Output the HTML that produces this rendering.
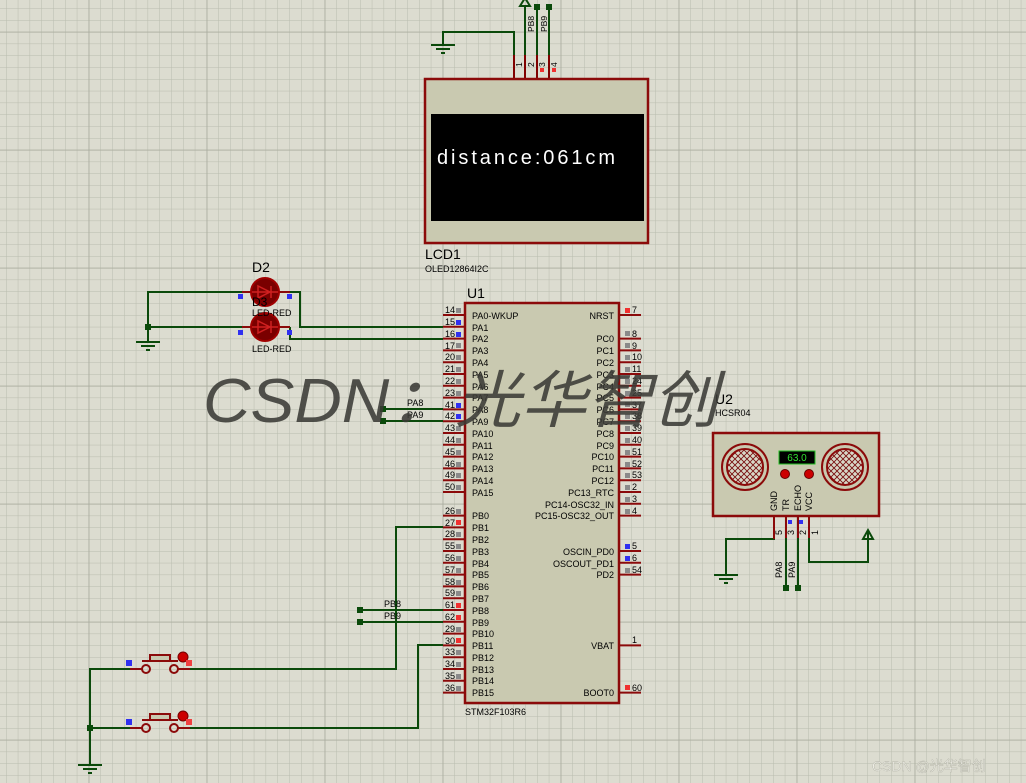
<!DOCTYPE html>
<html><head><meta charset="utf-8"><style>
html,body{margin:0;padding:0;background:#dcdcd0;}
svg{display:block;}
text{font-family:"Liberation Sans","Noto Sans CJK SC",sans-serif;}
</style></head><body>
<svg width="1026" height="783" viewBox="0 0 1026 783" xmlns="http://www.w3.org/2000/svg">
<defs>
<pattern id="mg" patternUnits="userSpaceOnUse" x="6" y="8.2" width="11.8" height="11.8">
<path d="M0 0H11.8M0 0V11.8" stroke="#b9bcae" stroke-width="1" fill="none"/></pattern>
<pattern id="Mg" patternUnits="userSpaceOnUse" x="88.6" y="31.7" width="118" height="118">
<path d="M0 0H118M0 0V118" stroke="#a9ac9e" stroke-width="1.6" fill="none"/></pattern>
<pattern id="mesh" patternUnits="userSpaceOnUse" width="6" height="6">
<rect width="6" height="6" fill="#d8d8c8"/><path d="M0 0L6 6M6 0L0 6" stroke="#7a1010" stroke-width="0.9"/></pattern>
</defs>
<rect width="1026" height="783" fill="#dcdcd0"/>
<rect width="1026" height="783" fill="url(#mg)"/>
<rect width="1026" height="783" fill="url(#Mg)"/>

<!-- LCD -->
<g stroke="#0b4a0b" stroke-width="2" fill="none">
<path d="M514 55V32H443V45"/><path d="M525 55V6"/><path d="M537 55V7"/><path d="M549 55V7"/>
</g>
<path d="M431 45H455M436 49H450M441 53H445" stroke="#0b4a0b" stroke-width="2"/>
<path d="M520 6L525 -2L530 6Z" fill="none" stroke="#0b4a0b" stroke-width="2"/>
<rect x="534" y="4" width="6" height="6" fill="#0b4a0b"/><rect x="546" y="4" width="6" height="6" fill="#0b4a0b"/>
<g stroke="#800000" stroke-width="2"><path d="M514 55V79M525 55V79M537 55V79M549 55V79"/></g>
<rect x="540" y="68" width="4" height="4" fill="#f03030"/><rect x="552" y="68" width="4" height="4" fill="#f03030"/>
<g font-size="8.5" fill="#000">
<text transform="translate(534,32) rotate(-90)">PB8</text>
<text transform="translate(547,32) rotate(-90)">PB9</text>
<text transform="translate(522,67) rotate(-90)">1</text><text transform="translate(534,67) rotate(-90)">2</text>
<text transform="translate(545,67) rotate(-90)">3</text><text transform="translate(557,67) rotate(-90)">4</text>
<text transform="translate(522,106) rotate(-90)">GND</text><text transform="translate(533,106) rotate(-90)">VCC</text>
<text transform="translate(545,106) rotate(-90)">SCL</text><text transform="translate(557,106) rotate(-90)">SDA</text>
</g>
<rect x="425" y="79" width="223" height="164" fill="#c9c9b0" stroke="#8b0a0a" stroke-width="2.5"/>
<rect x="431" y="114" width="213" height="107" fill="#000"/>
<text x="437" y="164" font-family="Liberation Mono,monospace" font-size="20" fill="#fff" textLength="178">distance:061cm</text>
<text x="425" y="259" font-size="14">LCD1</text>
<text x="425" y="272" font-size="9">OLED12864I2C</text>

<!-- LEDs -->
<g stroke="#0b4a0b" stroke-width="2" fill="none">
<path d="M242 292H148V327H242"/><path d="M148 327V342"/>
<path d="M290 292H300V327H443"/><path d="M290 327V339H443"/>
<path d="M383 409H443M383 421H443"/>
<path d="M443 527H396V669H190"/><path d="M443 645H418V728H190"/>
<path d="M360 610H443M360 622H443"/>
<path d="M130 669H90V765M130 728H90"/>
</g>
<rect x="145" y="324" width="6" height="6" fill="#0b4a0b"/>
<rect x="87" y="725" width="6" height="6" fill="#0b4a0b"/>
<rect x="380" y="406" width="6" height="6" fill="#0b4a0b"/><rect x="380" y="418" width="6" height="6" fill="#0b4a0b"/>
<rect x="357" y="607" width="6" height="6" fill="#0b4a0b"/><rect x="357" y="619" width="6" height="6" fill="#0b4a0b"/>
<path d="M136 342H160M141 346H155M146 350H150" stroke="#0b4a0b" stroke-width="2"/>
<path d="M78 765H102M83 769H97M88 773H92" stroke="#0b4a0b" stroke-width="2"/>
<g>
<path d="M242 292H290M242 327H290" stroke="#8b0a0a" stroke-width="2"/>
<circle cx="265" cy="292" r="14" fill="#7a0000" stroke="#a00000" stroke-width="2"/>
<circle cx="265" cy="327" r="14" fill="#7a0000" stroke="#a00000" stroke-width="2"/>
<path d="M258 286V298L270 292ZM271 286V298M252 292H278" stroke="#d02020" stroke-width="1.5" fill="none"/>
<path d="M258 321V333L270 327ZM271 321V333M252 327H278" stroke="#d02020" stroke-width="1.5" fill="none"/>
<rect x="238" y="294" width="5" height="5" fill="#3030f0"/><rect x="287" y="294" width="5" height="5" fill="#3030f0"/>
<rect x="238" y="330" width="5" height="5" fill="#3030f0"/><rect x="287" y="330" width="5" height="5" fill="#3030f0"/>
<text x="252" y="272" font-size="14">D2</text>
<text x="252" y="306" font-size="12">D3</text>
<text x="252" y="316" font-size="9">LED-RED</text>
<text x="252" y="352" font-size="9">LED-RED</text>
</g>
<text x="407" y="406" font-size="9">PA8</text><text x="407" y="418" font-size="9">PA9</text>
<text x="384" y="607" font-size="9">PB8</text><text x="384" y="619" font-size="9">PB9</text>

<!-- Buttons -->
<g stroke="#8b0a0a" stroke-width="2" fill="none">
<path d="M130 669H142M178 669H190M142 661H178"/><circle cx="146" cy="669" r="4"/><circle cx="174" cy="669" r="4"/>
<rect x="150" y="655" width="20" height="6" fill="#c8c8b0"/>
<path d="M130 728H142M178 728H190M142 720H178"/><circle cx="146" cy="728" r="4"/><circle cx="174" cy="728" r="4"/>
<rect x="150" y="714" width="20" height="6" fill="#c8c8b0"/>
</g>
<circle cx="183" cy="657" r="5" fill="#c00" stroke="#700" /><circle cx="183" cy="716" r="5" fill="#c00" stroke="#700"/>
<rect x="186" y="660" width="6" height="6" fill="#f04040"/><rect x="186" y="719" width="6" height="6" fill="#f04040"/>
<rect x="126" y="660" width="6" height="6" fill="#3030f0"/><rect x="126" y="719" width="6" height="6" fill="#3030f0"/>

<!-- MCU -->
<text x="467" y="298" font-size="14">U1</text>
<text x="465" y="715" font-size="9">STM32F103R6</text>
<g stroke="#8b0a0a" stroke-width="2">
<path d="M443 315H465M443 326.8H465M443 338.6H465M443 350.4H465M443 362.2H465M443 374H465M443 385.8H465M443 397.6H465M443 409.4H465M443 421.2H465M443 433H465M443 444.8H465M443 456.6H465M443 468.4H465M443 480.2H465M443 492H465"/>
<path d="M443 515.6H465M443 527.4H465M443 539.2H465M443 551H465M443 562.8H465M443 574.6H465M443 586.4H465M443 598.2H465M443 610H465M443 621.8H465M443 633.6H465M443 645.4H465M443 657.2H465M443 669H465M443 680.8H465M443 692.6H465"/>
<path d="M619 315H641M619 338.6H641M619 350.4H641M619 362.2H641M619 374H641M619 385.8H641M619 397.6H641M619 409.4H641M619 421.2H641M619 433H641M619 444.8H641M619 456.6H641M619 468.4H641M619 480.2H641M619 492H641M619 503.8H641M619 515.6H641M619 551H641M619 562.8H641M619 574.6H641M619 645.4H641M619 692.6H641"/>
</g>
<rect x="465" y="303" width="154" height="400" fill="#c9c9b0" stroke="#8b0a0a" stroke-width="2.5"/>
<g font-size="9" fill="#000">
<text x="445" y="313">14</text><text x="445" y="325">15</text><text x="445" y="337">16</text><text x="445" y="349">17</text><text x="445" y="360">20</text><text x="445" y="372">21</text><text x="445" y="384">22</text><text x="445" y="396">23</text><text x="445" y="408">41</text><text x="445" y="419">42</text><text x="445" y="431">43</text><text x="445" y="443">44</text><text x="445" y="455">45</text><text x="445" y="467">46</text><text x="445" y="478">49</text><text x="445" y="490">50</text>
<text x="445" y="514">26</text><text x="445" y="526">27</text><text x="445" y="537">28</text><text x="445" y="549">55</text><text x="445" y="561">56</text><text x="445" y="573">57</text><text x="445" y="585">58</text><text x="445" y="596">59</text><text x="445" y="608">61</text><text x="445" y="620">62</text><text x="445" y="632">29</text><text x="445" y="644">30</text><text x="445" y="655">33</text><text x="445" y="667">34</text><text x="445" y="679">35</text><text x="445" y="691">36</text>
<text x="632" y="313">7</text><text x="632" y="337">8</text><text x="632" y="349">9</text><text x="632" y="360">10</text><text x="632" y="372">11</text><text x="632" y="384">24</text><text x="632" y="396">25</text><text x="632" y="408">37</text><text x="632" y="419">38</text><text x="632" y="431">39</text><text x="632" y="443">40</text><text x="632" y="455">51</text><text x="632" y="467">52</text><text x="632" y="478">53</text><text x="632" y="490">2</text><text x="632" y="502">3</text><text x="632" y="514">4</text><text x="632" y="549">5</text><text x="632" y="561">6</text><text x="632" y="573">54</text><text x="632" y="643">1</text><text x="632" y="691">60</text>
<text x="472" y="319">PA0-WKUP</text><text x="472" y="331">PA1</text><text x="472" y="342">PA2</text><text x="472" y="354">PA3</text><text x="472" y="366">PA4</text><text x="472" y="378">PA5</text><text x="472" y="390">PA6</text><text x="472" y="401">PA7</text><text x="472" y="413">PA8</text><text x="472" y="425">PA9</text><text x="472" y="437">PA10</text><text x="472" y="449">PA11</text><text x="472" y="460">PA12</text><text x="472" y="472">PA13</text><text x="472" y="484">PA14</text><text x="472" y="496">PA15</text>
<text x="472" y="519">PB0</text><text x="472" y="531">PB1</text><text x="472" y="543">PB2</text><text x="472" y="555">PB3</text><text x="472" y="567">PB4</text><text x="472" y="578">PB5</text><text x="472" y="590">PB6</text><text x="472" y="602">PB7</text><text x="472" y="614">PB8</text><text x="472" y="626">PB9</text><text x="472" y="637">PB10</text><text x="472" y="649">PB11</text><text x="472" y="661">PB12</text><text x="472" y="673">PB13</text><text x="472" y="684">PB14</text><text x="472" y="696">PB15</text>
</g>
<g font-size="9" fill="#000" text-anchor="end">
<text x="614" y="319">NRST</text><text x="614" y="342">PC0</text><text x="614" y="354">PC1</text><text x="614" y="366">PC2</text><text x="614" y="378">PC3</text><text x="614" y="390">PC4</text><text x="614" y="401">PC5</text><text x="614" y="413">PC6</text><text x="614" y="425">PC7</text><text x="614" y="437">PC8</text><text x="614" y="449">PC9</text><text x="614" y="460">PC10</text><text x="614" y="472">PC11</text><text x="614" y="484">PC12</text><text x="614" y="496">PC13_RTC</text><text x="614" y="508">PC14-OSC32_IN</text><text x="614" y="519">PC15-OSC32_OUT</text>
<text x="614" y="555">OSCIN_PD0</text><text x="614" y="567">OSCOUT_PD1</text><text x="614" y="578">PD2</text><text x="614" y="649">VBAT</text><text x="614" y="696">BOOT0</text>
</g>
<g fill="#8a8a8a">
<rect x="456" y="308" width="5" height="5"/><rect x="456" y="343" width="5" height="5"/><rect x="456" y="355" width="5" height="5"/><rect x="456" y="367" width="5" height="5"/><rect x="456" y="379" width="5" height="5"/><rect x="456" y="391" width="5" height="5"/><rect x="456" y="426" width="5" height="5"/><rect x="456" y="438" width="5" height="5"/><rect x="456" y="450" width="5" height="5"/><rect x="456" y="462" width="5" height="5"/><rect x="456" y="473" width="5" height="5"/><rect x="456" y="485" width="5" height="5"/>
<rect x="456" y="509" width="5" height="5"/><rect x="456" y="532" width="5" height="5"/><rect x="456" y="544" width="5" height="5"/><rect x="456" y="556" width="5" height="5"/><rect x="456" y="568" width="5" height="5"/><rect x="456" y="580" width="5" height="5"/><rect x="456" y="591" width="5" height="5"/><rect x="456" y="627" width="5" height="5"/><rect x="456" y="650" width="5" height="5"/><rect x="456" y="662" width="5" height="5"/><rect x="456" y="674" width="5" height="5"/><rect x="456" y="686" width="5" height="5"/>
<rect x="625" y="331" width="5" height="5"/><rect x="625" y="343" width="5" height="5"/><rect x="625" y="355" width="5" height="5"/><rect x="625" y="367" width="5" height="5"/><rect x="625" y="379" width="5" height="5"/><rect x="625" y="391" width="5" height="5"/><rect x="625" y="402" width="5" height="5"/><rect x="625" y="414" width="5" height="5"/><rect x="625" y="426" width="5" height="5"/><rect x="625" y="438" width="5" height="5"/><rect x="625" y="450" width="5" height="5"/><rect x="625" y="462" width="5" height="5"/><rect x="625" y="473" width="5" height="5"/><rect x="625" y="485" width="5" height="5"/><rect x="625" y="497" width="5" height="5"/><rect x="625" y="509" width="5" height="5"/><rect x="625" y="568" width="5" height="5"/>
</g>
<g fill="#3030f0"><rect x="456" y="320" width="5" height="5"/><rect x="456" y="332" width="5" height="5"/><rect x="456" y="403" width="5" height="5"/><rect x="456" y="414" width="5" height="5"/><rect x="625" y="544" width="5" height="5"/><rect x="625" y="556" width="5" height="5"/></g>
<g fill="#f03030"><rect x="625" y="308" width="5" height="5"/><rect x="456" y="520" width="5" height="5"/><rect x="456" y="603" width="5" height="5"/><rect x="456" y="615" width="5" height="5"/><rect x="456" y="638" width="5" height="5"/><rect x="625" y="685" width="5" height="5"/></g>

<!-- HC-SR04 -->
<text x="715" y="404" font-size="14">U2</text>
<text x="715" y="416" font-size="9">HCSR04</text>
<g stroke="#0b4a0b" stroke-width="2" fill="none">
<path d="M774 538V539H726V575"/><path d="M786 538V588M798 538V588"/><path d="M809 538V562H868V531"/>
</g>
<path d="M714 575H738M719 579H733M724 583H728" stroke="#0b4a0b" stroke-width="2"/>
<path d="M863 539L868 530L873 539Z" fill="none" stroke="#0b4a0b" stroke-width="2"/>
<rect x="783" y="585" width="6" height="6" fill="#0b4a0b"/><rect x="795" y="585" width="6" height="6" fill="#0b4a0b"/>
<path d="M774 516V539M786 516V538M798 516V538M809 516V538" stroke="#8b0a0a" stroke-width="2"/>
<rect x="713" y="433" width="166" height="83" fill="#c9c9b0" stroke="#8b0a0a" stroke-width="2.5"/>
<circle cx="745" cy="467" r="23" fill="none" stroke="#8b0a0a" stroke-width="2"/>
<circle cx="745" cy="467" r="18" fill="url(#mesh)" stroke="#8b0a0a" stroke-width="2"/>
<circle cx="845" cy="467" r="23" fill="none" stroke="#8b0a0a" stroke-width="2"/>
<circle cx="845" cy="467" r="18" fill="url(#mesh)" stroke="#8b0a0a" stroke-width="2"/>
<rect x="779" y="451" width="36" height="13" fill="#000" stroke="#20c020"/>
<text x="797" y="461" font-size="10" fill="#30e030" text-anchor="middle">63.0</text>
<circle cx="785" cy="474" r="4.5" fill="#c00" stroke="#600"/><circle cx="809" cy="474" r="4.5" fill="#c00" stroke="#600"/>
<g font-size="9">
<text transform="translate(777,511) rotate(-90)">GND</text><text transform="translate(789,511) rotate(-90)">TR</text>
<text transform="translate(801,511) rotate(-90)">ECHO</text><text transform="translate(812,511) rotate(-90)">VCC</text>
<text transform="translate(782,535) rotate(-90)">5</text><text transform="translate(794,535) rotate(-90)">3</text>
<text transform="translate(806,535) rotate(-90)">2</text><text transform="translate(818,535) rotate(-90)">1</text>
<text transform="translate(782,578) rotate(-90)">PA8</text><text transform="translate(795,578) rotate(-90)">PA9</text>
</g>
<rect x="788" y="520" width="4" height="4" fill="#3030f0"/><rect x="799" y="520" width="4" height="4" fill="#3030f0"/>

<!-- watermark -->
<text x="203" y="422" font-size="62" fill="#3a3a35" fill-opacity="0.88" font-style="italic" textLength="515" lengthAdjust="spacingAndGlyphs">CSDN：光华智创</text>
<text x="872" y="771" font-size="14" fill="#f2f2ea" stroke="#b0b0a4" stroke-width="0.4">CSDN @光华智创</text>
</svg>
</body></html>
